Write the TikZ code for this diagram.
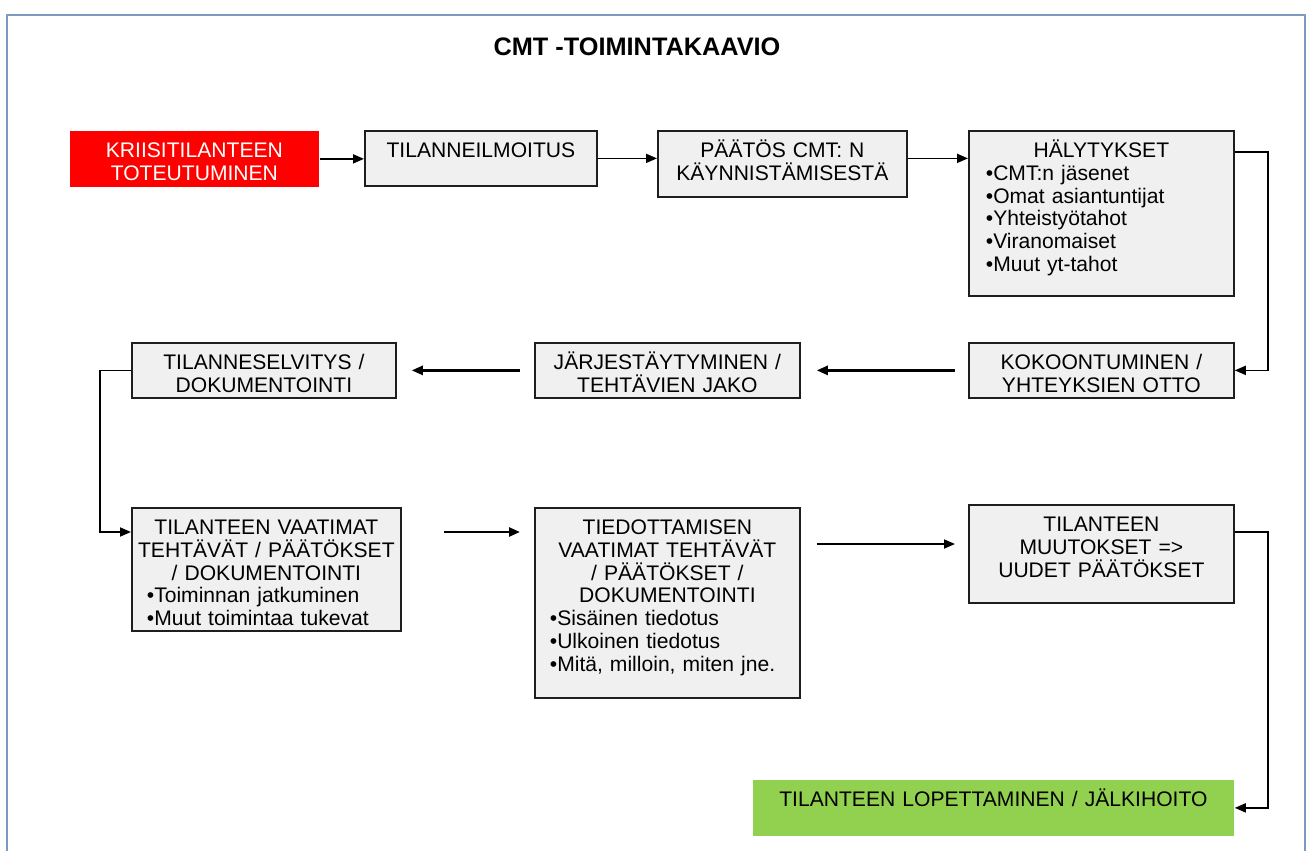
\documentclass[tikz,border=0pt]{standalone}
\usepackage{fontspec}
\setmainfont{Liberation Sans}
\usepackage{tikz}
\usetikzlibrary{arrows.meta}

\definecolor{boxfill}{RGB}{240,240,240}
\definecolor{boxline}{RGB}{30,30,30}
\definecolor{framecol}{RGB}{125,155,190}
\definecolor{crisisred}{RGB}{255,0,0}
\definecolor{endgreen}{RGB}{146,208,80}

\tikzset{
  box/.style={draw=boxline, fill=boxfill, line width=1pt, inner sep=0pt,
    anchor=north west, align=center, text height=0.53cm,
    font=\fontsize{12}{13}\selectfont},
  arr/.style={-{Triangle[length=2.2mm,width=1.8mm]}, line width=1pt}
}

\begin{document}
\begin{tikzpicture}
    % Fix the size of the page
    \useasboundingbox (0,0) rectangle (26.18,-17);
    \draw[framecol, line width=1pt] (0.14,-0.3) rectangle (26.1,-17.4);

    % Title
    \node[font=\bfseries\fontsize{14.4}{16}\selectfont] (title) at (12.74,-0.94) {CMT -TOIMINTAKAAVIO};

    % First row
    \node[box, draw=none, fill=crisisred, text=white, text width=4.98cm, text depth=0.59cm] (crisis) at (1.38,-2.60) {KRIISITILANTEEN\\TOTEUTUMINEN};
    \node[box, text width=4.64cm, text depth=0.57cm] (tilanne) at (7.28,-2.60) {TILANNEILMOITUS};
    \node[box, text width=4.98cm, text depth=0.79cm] (paatos) at (13.14,-2.60) {PÄÄTÖS CMT: N\\KÄYNNISTÄMISESTÄ};
    \node[box, text width=5.30cm, text depth=2.77cm] (halyt) at (19.36,-2.60)
      {HÄLYTYKSET\par\raggedright\leftskip=0.34cm
       •CMT:n jäsenet\\•Omat asiantuntijat\\•Yhteistyötahot\\•Viranomaiset\\•Muut yt-tahot\par};

    % Second row
    \node[box, text width=5.30cm, text depth=0.57cm] (kokoon) at (19.36,-6.84) {KOKOONTUMINEN /\\YHTEYKSIEN OTTO};
    \node[box, text width=5.30cm, text depth=0.57cm] (jarj) at (10.68,-6.84) {JÄRJESTÄYTYMINEN /\\TEHTÄVIEN JAKO};
    \node[box, text width=5.28cm, text depth=0.57cm] (selv) at (2.62,-6.84) {TILANNESELVITYS /\\DOKUMENTOINTI};

    % Third row
    \node[box, text width=5.38cm, text depth=1.93cm] (vaatimat) at (2.62,-10.14)
      {TILANTEEN VAATIMAT\\TEHTÄVÄT / PÄÄTÖKSET\\/ DOKUMENTOINTI\par\raggedright\leftskip=0.3cm
       •Toiminnan jatkuminen\\•Muut toimintaa tukevat\par};
    \node[box, text width=5.30cm, text depth=3.27cm] (tiedot) at (10.68,-10.14)
      {TIEDOTTAMISEN\\VAATIMAT TEHTÄVÄT\\/ PÄÄTÖKSET /\\DOKUMENTOINTI\par\raggedright\leftskip=0.3cm
       •Sisäinen tiedotus\\•Ulkoinen tiedotus\\•Mitä, milloin, miten jne.\par};
    \node[box, text width=5.30cm, text depth=1.43cm] (muutok) at (19.36,-10.08) {TILANTEEN\\MUUTOKSET =>\\UUDET PÄÄTÖKSET};

    % Last step
    \node[box, draw=none, fill=endgreen, text width=9.62cm, text depth=0.59cm] (lopet) at (15.04,-15.58) {TILANTEEN LOPETTAMINEN / JÄLKIHOITO};

    % Connectors
    \draw[arr] (crisis.east) -- (crisis.east -| tilanne.west);
    \draw[arr] (tilanne.east) -- (tilanne.east -| paatos.west);
    \draw[arr] (paatos.east |- tilanne.east) -- (tilanne.east -| halyt.west);
    \draw[arr] ([yshift=-0.44cm]halyt.north east) -- ++(0.66,0) |- (kokoon.east);
    \draw[arr, line width=1.4pt, shorten <=0.26cm, shorten >=0.32cm] (kokoon.west) -- (kokoon.west -| jarj.east);
    \draw[arr, line width=1.4pt, shorten <=0.28cm, shorten >=0.30cm] (jarj.west) -- (jarj.west -| selv.east);
    \draw[arr] (selv.west) -- ++(-0.62,0) |- ([yshift=-0.5cm]vaatimat.north west);
    \draw[arr, line width=1.4pt, shorten <=0.84cm, shorten >=0.28cm] ([yshift=-0.5cm]vaatimat.north east) -- ([yshift=-0.5cm]tiedot.north west);
    \draw[arr, shorten <=0.32cm, shorten >=0.26cm] ([yshift=-0.74cm]tiedot.north east) -- ([yshift=-0.74cm]tiedot.north east -| muutok.west);
    \draw[arr] ([yshift=-0.56cm]muutok.north east) -- ++(0.66,0) |- (lopet.east);

\end{tikzpicture}
\end{document}
